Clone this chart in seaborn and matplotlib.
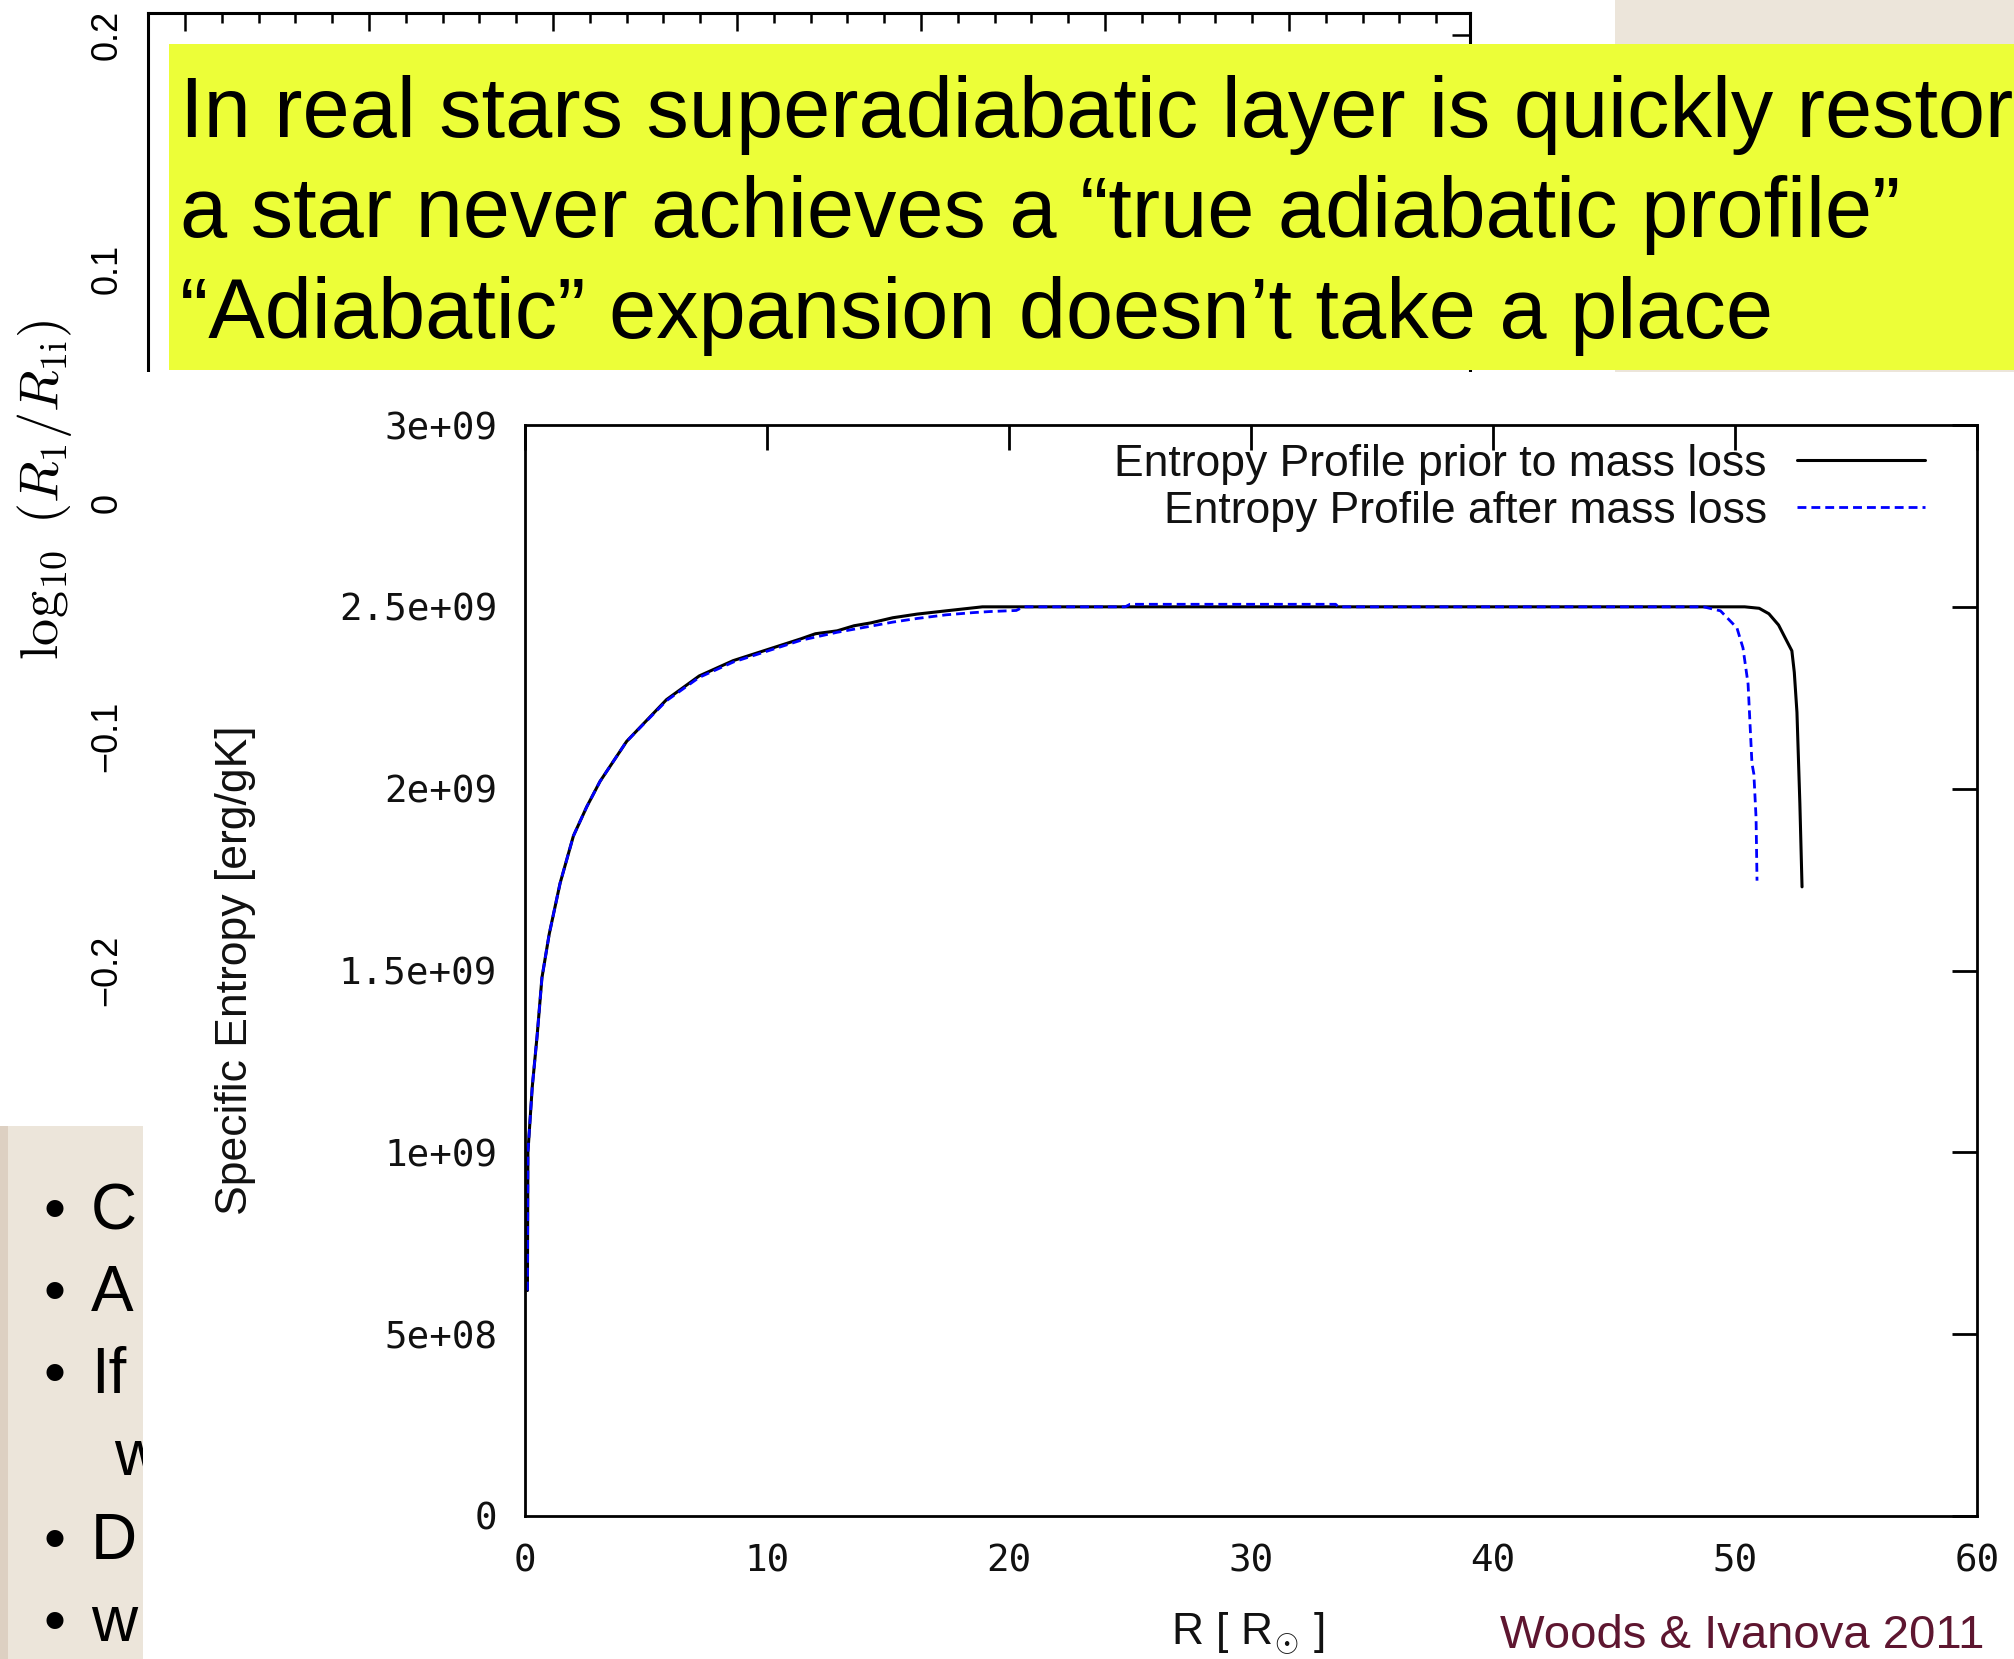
import numpy as np
import pandas as pd
import matplotlib
matplotlib.use("Agg")
import matplotlib.pyplot as plt
import seaborn as sns
from matplotlib.patches import Rectangle
from matplotlib.ticker import FixedLocator, MultipleLocator

# ---------------- data ----------------
r_prior = [0.10, 0.12, 0.30, 0.50, 0.70, 1.00, 1.45, 2.00, 2.55, 3.10, 4.20, 5.85, 7.20, 8.60, 10.0,
           11.4, 12.0, 12.9, 13.6, 14.3, 15.2, 16.2, 17.4, 18.9, 22.0, 30.0, 40.0, 50.4, 51.0, 51.4,
           51.8, 52.07, 52.35, 52.45, 52.56, 52.68, 52.77]
s_prior = [0.62, 1.00, 1.18, 1.32, 1.48, 1.60, 1.74, 1.87, 1.95, 2.02, 2.13, 2.245, 2.31, 2.352, 2.382,
           2.412, 2.426, 2.434, 2.448, 2.456, 2.47, 2.48, 2.489, 2.5, 2.5, 2.5, 2.5, 2.5, 2.496, 2.481,
           2.45, 2.415, 2.379, 2.32, 2.21, 1.96, 1.73]  # x 1e9

r_after = [0.10, 0.12, 0.30, 0.50, 0.70, 1.00, 1.45, 2.00, 2.55, 3.10, 4.20, 5.85, 7.20, 8.60, 10.0,
           11.4, 12.9, 14.3, 15.2, 16.2, 17.4, 18.5, 19.2, 20.3, 20.6, 24.8, 25.0, 33.5, 33.6, 48.7,
           49.4, 50.08, 50.33, 50.54, 50.70, 50.78, 50.87, 50.91]
s_after = [0.62, 1.00, 1.18, 1.32, 1.48, 1.60, 1.74, 1.87, 1.95, 2.02, 2.13, 2.242, 2.306, 2.348, 2.378,
           2.408, 2.43, 2.447, 2.458, 2.468, 2.478, 2.484, 2.487, 2.49, 2.5, 2.5, 2.507, 2.507, 2.5, 2.5,
           2.489, 2.442, 2.387, 2.288, 2.07, 2.04, 1.92, 1.747]  # x 1e9

legend_labels = ["Entropy Profile prior to mass loss", "Entropy Profile after mass loss"]
x_ticks = [0, 10, 20, 30, 40, 50, 60]
x_tick_labels = ["0", "10", "20", "30", "40", "50", "60"]
y_ticks = [0, 0.5e9, 1.0e9, 1.5e9, 2.0e9, 2.5e9, 3.0e9]
y_tick_labels = ["0", "5e+08", "1e+09", "1.5e+09", "2e+09", "2.5e+09", "3e+09"]
x_label = r"R [ R$_{\odot}$ ]"
y_label = "Specific Entropy [erg/gK]"

upper_ticks = [-0.2, -0.1, 0.0, 0.1, 0.2]
upper_tick_labels = ["\u22120.2", "\u22120.1", "0", "0.1", "0.2"]
upper_label = r"$\log_{10}\ (R_1/R_{1\mathrm{i}})$"

banner_lines = ["In real stars superadiabatic layer is quickly restored",
                "a star never achieves a \u201ctrue adiabatic profile\u201d",
                "\u201cAdiabatic\u201d expansion doesn\u2019t take a place"]
bullet_words = ["C", "A", "If", "w", "D", "w"]
bullet_marks = [True, True, True, False, True, True]
credit = "Woods & Ivanova 2011"

# ---------------- figure ----------------
W, H = 2014, 1659
sns.set_theme(style="white")
plt.rcParams["font.family"] = ["Liberation Sans", "DejaVu Sans"]
plt.rcParams["mathtext.fontset"] = "cm"

fig = plt.figure(figsize=(W / 100, H / 100), dpi=100)
fig.patch.set_facecolor("white")


def fx(px):
    return px / W


def fy(py):
    return 1 - py / H


def frect(x0, y0, x1, y1, color, z):
    r = Rectangle((fx(x0), fy(y1)), fx(x1) - fx(x0), fy(y0) - fy(y1), transform=fig.transFigure,
                  facecolor=color, edgecolor="none", zorder=z)
    fig.add_artist(r)
    return r


# ---- background plot (partly hidden) ----
ax_up = fig.add_axes([fx(148), fy(1000), fx(1470) - fx(148), fy(13) - fy(1000)], zorder=0)
ax_up.set_facecolor("white")
ax_up.set_xlim(-0.201, 6.984)
ax_up.set_ylim(-0.2128, 0.2094)
ax_up.xaxis.set_major_locator(FixedLocator([0, 1, 2, 3, 4, 5, 6]))
ax_up.xaxis.set_minor_locator(MultipleLocator(0.2))
ax_up.yaxis.set_major_locator(FixedLocator(upper_ticks))
ax_up.yaxis.set_minor_locator(MultipleLocator(0.02))
ax_up.set_yticklabels(upper_tick_labels, rotation=90, va="center", fontsize=26,
                      family=["Liberation Sans", "DejaVu Sans"], color="black")
ax_up.tick_params(which="both", direction="in", top=True, right=True, bottom=False,
                  labelbottom=False, labeltop=False, color="black", width=1.8)
ax_up.tick_params(which="major", length=13, pad=17)
ax_up.tick_params(which="minor", length=7)
for s in ax_up.spines.values():
    s.set_color("black")
    s.set_linewidth(2.2)
fig.text(fx(45), fy(490), upper_label, rotation=90, ha="center", va="center", fontsize=39,
         color="black")

# white sheet of the main figure
frect(143, 372, W, H, "white", 1)

# ---- main plot ----
ax = fig.add_axes([fx(525), fy(1516), fx(1977) - fx(525), fy(425) - fy(1516)], zorder=2)
ax.set_facecolor("none")
df_prior = pd.DataFrame({"R": r_prior, "S": np.array(s_prior) * 1e9})
df_after = pd.DataFrame({"R": r_after, "S": np.array(s_after) * 1e9})
sns.lineplot(data=df_prior, x="R", y="S", ax=ax, color="black", linewidth=2.2, sort=False,
             estimator=None, label=legend_labels[0])
sns.lineplot(data=df_after, x="R", y="S", ax=ax, color="#0000ff", linewidth=2.0, sort=False,
             estimator=None, label=legend_labels[1])
ax.get_lines()[1].set_dashes([3.2, 1.8])

ax.set_xlim(0, 60)
ax.set_ylim(0, 3e9)
ax.set_xticks(x_ticks)
ax.set_xticklabels(x_tick_labels)
ax.set_yticks(y_ticks)
ax.set_yticklabels(y_tick_labels)
for lab in ax.get_xticklabels() + ax.get_yticklabels():
    lab.set_family("DejaVu Sans Mono")
    lab.set_fontsize(27)
    lab.set_color("#111111")
ax.tick_params(which="major", direction="in", length=18, width=2.0, top=True, right=True,
               color="black")
ax.tick_params(axis="y", pad=20)
ax.tick_params(axis="x", pad=20)
for s in ax.spines.values():
    s.set_color("black")
    s.set_linewidth(2.0)
ax.set_xlabel("")
ax.set_ylabel("")
fig.text(fx(236), fy(970), y_label, rotation=90, ha="center", va="center", fontsize=32,
         color="#111111")
fig.text(fx(1248), fy(1634), x_label, ha="center", va="center", fontsize=32, color="#111111")

handles, labels = ax.get_legend_handles_labels()
leg = ax.legend(handles, labels, loc="upper right", bbox_to_anchor=(fx(1925), fy(444)),
                bbox_transform=fig.transFigure, frameon=False, markerfirst=False, fontsize=32,
                borderpad=0, borderaxespad=0, handlelength=2.88, handletextpad=0.68,
                labelspacing=0.13)
for t in leg.get_texts():
    t.set_color("#111111")

# ---- slide decorations ----
frect(1615, 0, W, 372, "#ece5da", 3)
frect(0, 1126, 143, H, "#ece5da", 3)
frect(0, 1126, 8, H, "#ddd0c2", 3)
strip = Rectangle((0, 0), fx(143), fy(1126), transform=fig.transFigure, facecolor="none",
                  edgecolor="none")
fig.add_artist(strip)
baselines = [1229, 1311, 1393, 1475, 1559, 1641]
for word, mark, yb in zip(bullet_words, bullet_marks, baselines):
    if mark:
        fig.text(fx(55), fy(yb), "\u2022", ha="center", va="baseline", fontsize=45,
                 color="black", zorder=4)
        t2 = fig.text(fx(91), fy(yb), word, ha="left", va="baseline", fontsize=46,
                      color="black", zorder=4)
    else:
        t2 = fig.text(fx(114), fy(yb), word, ha="left", va="baseline", fontsize=46,
                      color="black", zorder=4)
    t2.set_clip_path(strip)

banner = frect(169, 44, W, 370, "#ecfe38", 5)
for line, yb in zip(banner_lines, [137, 237, 338]):
    t = fig.text(fx(180), fy(yb), line, ha="left", va="baseline", fontsize=61, color="black",
                 zorder=6)
    t.set_clip_path(banner)

fig.text(fx(1500), fy(1648), credit, ha="left", va="baseline", fontsize=34,
         color="#5e1630", zorder=6)

fig.savefig("out.png", dpi=100, facecolor=fig.get_facecolor())
